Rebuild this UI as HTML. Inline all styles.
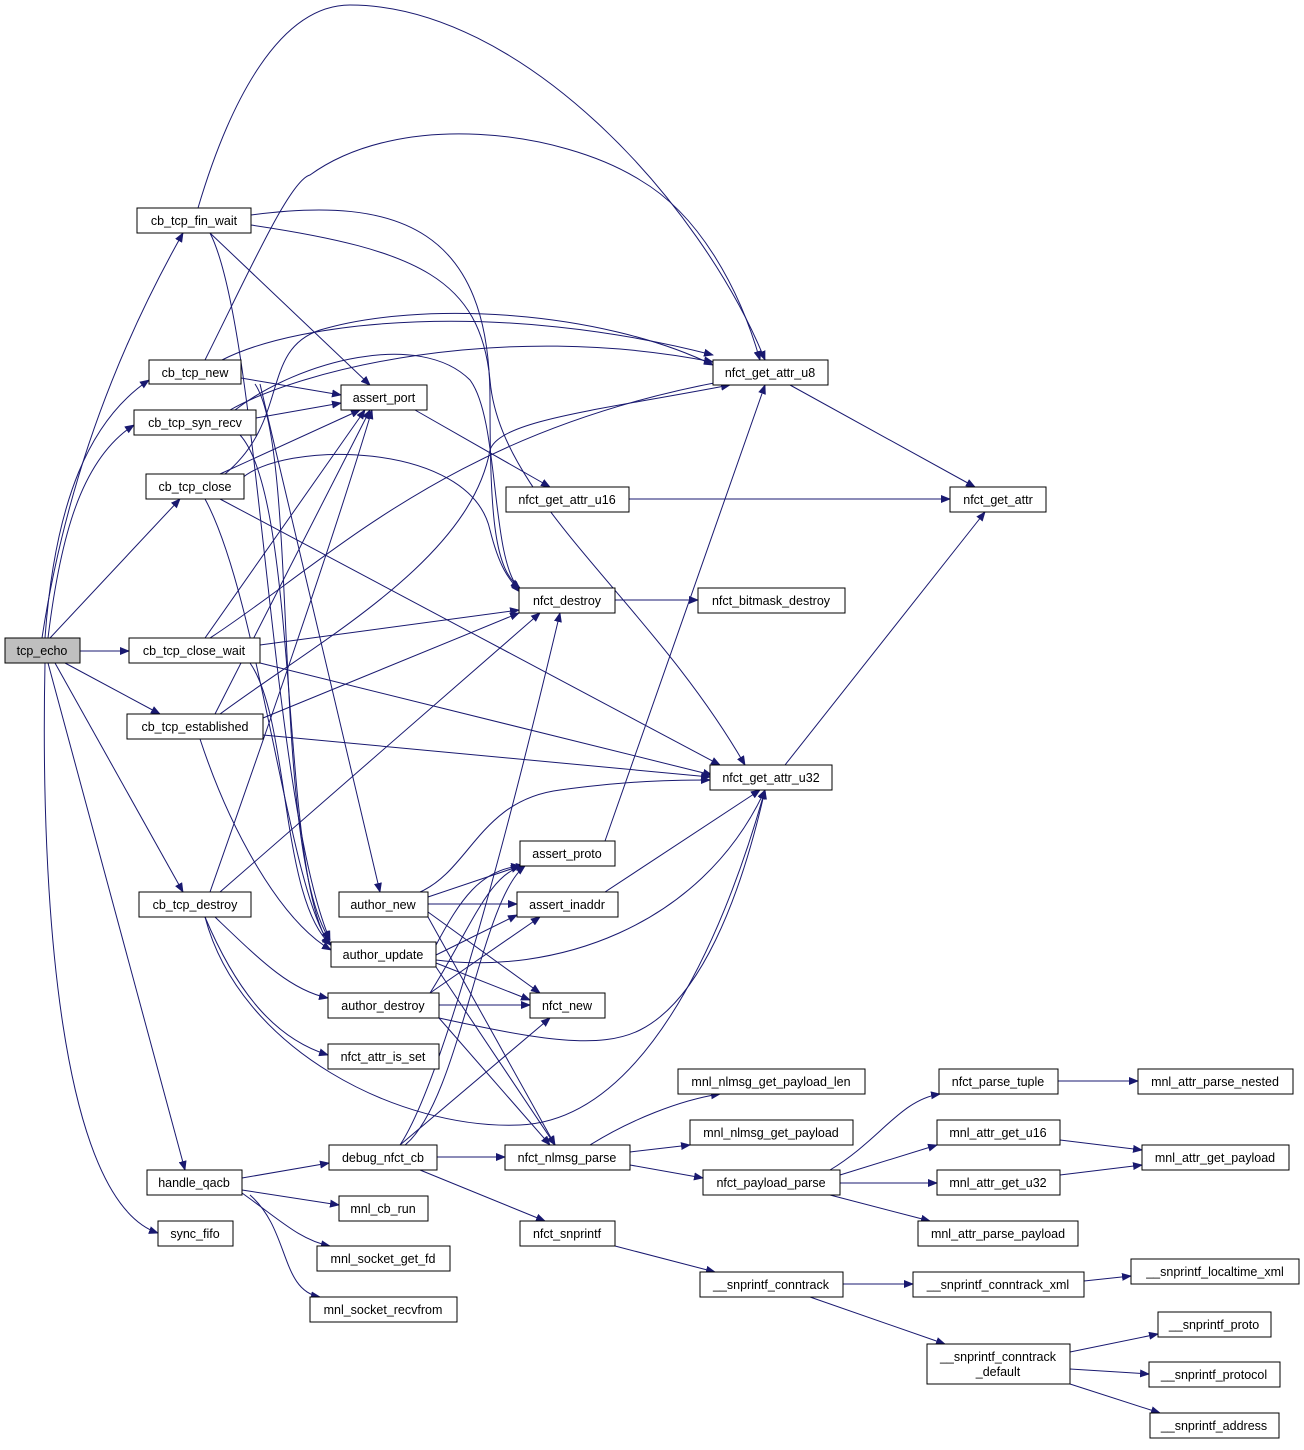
<!DOCTYPE html>
<html><head><meta charset="utf-8"><style>
html,body{margin:0;padding:0;background:#fff;}
svg text{font-family:"Liberation Sans",sans-serif;font-size:12.5px;fill:#000;text-anchor:middle;}
.n{fill:#fff;stroke:#000;stroke-width:1;}
.e{fill:none;stroke:#191970;stroke-width:1;marker-end:url(#a);}
</style></head><body>
<svg width="1304" height="1445" viewBox="0 0 1304 1445" xmlns="http://www.w3.org/2000/svg">
<defs><marker id="a" markerWidth="10" markerHeight="8" refX="9" refY="4" orient="auto" markerUnits="userSpaceOnUse"><path d="M0,0 L10,4 L0,8 z" fill="#191970"/></marker></defs>
<g>
<path class="e" d="M42,638 C60,520 100,380 183,233"/>
<path class="e" d="M45,638 C55,500 90,420 149,380"/>
<path class="e" d="M48,638 C60,540 80,460 134,425"/>
<path class="e" d="M50,638 L180,499"/>
<path class="e" d="M80,651 L129,651"/>
<path class="e" d="M65,663 L160,714"/>
<path class="e" d="M55,663 L183,892"/>
<path class="e" d="M48,663 L185,1170"/>
<path class="e" d="M45,663 C40,900 60,1200 158,1233"/>

<path class="e" d="M198,208 C230,100 280,5 350,5 C520,5 700,200 765,360"/>
<path class="e" d="M210,233 L370,385"/>
<path class="e" d="M210,233 C260,330 270,800 330,940"/>
<path class="e" d="M251,215 C400,195 490,230 490,400 C490,520 495,570 520,588"/>
<path class="e" d="M251,225 C420,250 480,280 490,380 C500,500 650,600 745,765"/>

<path class="e" d="M205,360 C250,270 290,180 310,175 C400,110 560,130 640,180 C700,215 740,290 760,360"/>
<path class="e" d="M222,360 C300,320 500,300 713,355"/>
<path class="e" d="M241,378 L341,395"/>
<path class="e" d="M260,384 L380,892"/>
<path class="e" d="M255,384 C300,450 270,850 330,940"/>

<path class="e" d="M256,418 L341,403"/>
<path class="e" d="M230,410 C300,370 500,320 713,362"/>
<path class="e" d="M235,410 C300,360 420,330 470,380 C500,420 490,560 520,590"/>
<path class="e" d="M240,435 C300,500 280,880 330,945"/>

<path class="e" d="M220,474 L360,410"/>
<path class="e" d="M240,480 C280,440 470,440 490,530 C500,570 510,580 520,592"/>
<path class="e" d="M225,474 C290,420 260,350 320,330 C420,300 600,310 713,365"/>
<path class="e" d="M220,499 L720,765"/>
<path class="e" d="M205,499 C260,600 290,900 331,945"/>

<path class="e" d="M205,638 L365,410"/>
<path class="e" d="M260,645 L519,610"/>
<path class="e" d="M260,663 L712,775"/>
<path class="e" d="M210,638 C330,560 450,430 730,380"/>
<path class="e" d="M250,663 C290,720 280,900 331,945"/>

<path class="e" d="M215,714 L370,410"/>
<path class="e" d="M220,714 C320,640 470,560 490,450 C500,420 600,410 730,385"/>
<path class="e" d="M263,718 L519,613"/>
<path class="e" d="M263,735 L710,777"/>
<path class="e" d="M200,739 C230,830 280,920 331,950"/>

<path class="e" d="M210,892 C260,750 330,550 372,410"/>
<path class="e" d="M220,892 L540,613"/>
<path class="e" d="M205,917 C240,1050 400,1130 520,1125 C640,1120 720,950 765,790"/>
<path class="e" d="M215,917 C260,960 290,990 328,998"/>
<path class="e" d="M205,917 C240,1000 280,1040 328,1055"/>

<path class="e" d="M428,897 L520,866"/>
<path class="e" d="M428,904 L517,904"/>
<path class="e" d="M428,912 L540,993"/>
<path class="e" d="M420,892 C470,870 480,800 560,790 C620,782 660,780 710,780"/>
<path class="e" d="M428,917 L555,1145"/>

<path class="e" d="M436,945 C460,900 480,870 520,866"/>
<path class="e" d="M436,955 L517,915"/>
<path class="e" d="M436,963 L530,1000"/>
<path class="e" d="M436,960 C550,975 700,930 765,790"/>
<path class="e" d="M436,967 L555,1145"/>

<path class="e" d="M430,993 C470,930 490,870 525,866"/>
<path class="e" d="M430,993 L540,917"/>
<path class="e" d="M439,1005 L530,1005"/>
<path class="e" d="M439,1018 C540,1040 600,1050 640,1030 C700,1000 740,900 765,790"/>
<path class="e" d="M439,1018 L550,1145"/>

<path class="e" d="M415,410 L550,487"/>
<path class="e" d="M605,841 L765,385"/>
<path class="e" d="M605,892 L760,790"/>
<path class="e" d="M790,385 L975,487"/>
<path class="e" d="M629,499 L950,499"/>
<path class="e" d="M615,600 L698,600"/>
<path class="e" d="M785,765 L985,512"/>

<path class="e" d="M400,1145 C430,1100 480,950 560,613"/>
<path class="e" d="M405,1145 C460,1100 480,900 525,866"/>
<path class="e" d="M400,1145 L550,1018"/>
<path class="e" d="M437,1157 L505,1157"/>
<path class="e" d="M420,1170 L545,1221"/>

<path class="e" d="M242,1178 L329,1163"/>
<path class="e" d="M242,1190 L339,1205"/>
<path class="e" d="M242,1193 C280,1220 300,1240 330,1246"/>
<path class="e" d="M250,1195 C290,1230 280,1290 320,1297"/>

<path class="e" d="M590,1145 C630,1120 680,1100 720,1094"/>
<path class="e" d="M630,1152 L690,1145"/>
<path class="e" d="M630,1165 L703,1178"/>
<path class="e" d="M830,1170 C880,1140 900,1100 940,1094"/>
<path class="e" d="M840,1175 L937,1145"/>
<path class="e" d="M840,1183 L937,1183"/>
<path class="e" d="M830,1195 L930,1221"/>
<path class="e" d="M1058,1081 L1138,1081"/>
<path class="e" d="M1060,1140 L1142,1150"/>
<path class="e" d="M1060,1175 L1142,1165"/>
<path class="e" d="M615,1246 L715,1272"/>
<path class="e" d="M843,1284 L913,1284"/>
<path class="e" d="M1084,1281 L1131,1276"/>
<path class="e" d="M810,1297 L945,1344"/>
<path class="e" d="M1070,1352 L1158,1334"/>
<path class="e" d="M1070,1369 L1149,1374"/>
<path class="e" d="M1070,1384 L1160,1413"/>
</g>
<g>
<rect x="5" y="638" width="75" height="25" style="fill:#bfbfbf;stroke:#000"/><text x="42" y="655">tcp_echo</text>
<rect class="n" x="137" y="208" width="114" height="25"/><text x="194" y="225">cb_tcp_fin_wait</text>
<rect class="n" x="149" y="360" width="92" height="24"/><text x="195" y="377">cb_tcp_new</text>
<rect class="n" x="134" y="410" width="122" height="25"/><text x="195" y="427">cb_tcp_syn_recv</text>
<rect class="n" x="146" y="474" width="98" height="25"/><text x="195" y="491">cb_tcp_close</text>
<rect class="n" x="129" y="638" width="131" height="25"/><text x="194" y="655">cb_tcp_close_wait</text>
<rect class="n" x="127" y="714" width="136" height="25"/><text x="195" y="731">cb_tcp_established</text>
<rect class="n" x="139" y="892" width="112" height="25"/><text x="195" y="909">cb_tcp_destroy</text>
<rect class="n" x="147" y="1170" width="95" height="25"/><text x="194" y="1187">handle_qacb</text>
<rect class="n" x="158" y="1221" width="75" height="25"/><text x="195" y="1238">sync_fifo</text>
<rect class="n" x="341" y="385" width="86" height="25"/><text x="384" y="402">assert_port</text>
<rect class="n" x="713" y="360" width="115" height="25"/><text x="770" y="377">nfct_get_attr_u8</text>
<rect class="n" x="506" y="487" width="123" height="25"/><text x="567" y="504">nfct_get_attr_u16</text>
<rect class="n" x="950" y="487" width="96" height="25"/><text x="998" y="504">nfct_get_attr</text>
<rect class="n" x="519" y="588" width="96" height="25"/><text x="567" y="605">nfct_destroy</text>
<rect class="n" x="698" y="588" width="147" height="25"/><text x="771" y="605">nfct_bitmask_destroy</text>
<rect class="n" x="710" y="765" width="122" height="25"/><text x="771" y="782">nfct_get_attr_u32</text>
<rect class="n" x="520" y="841" width="95" height="25"/><text x="567" y="858">assert_proto</text>
<rect class="n" x="517" y="892" width="101" height="25"/><text x="567" y="909">assert_inaddr</text>
<rect class="n" x="339" y="892" width="89" height="25"/><text x="383" y="909">author_new</text>
<rect class="n" x="331" y="942" width="105" height="25"/><text x="383" y="959">author_update</text>
<rect class="n" x="328" y="993" width="111" height="25"/><text x="383" y="1010">author_destroy</text>
<rect class="n" x="530" y="993" width="75" height="25"/><text x="567" y="1010">nfct_new</text>
<rect class="n" x="328" y="1044" width="111" height="25"/><text x="383" y="1061">nfct_attr_is_set</text>
<rect class="n" x="329" y="1145" width="108" height="25"/><text x="383" y="1162">debug_nfct_cb</text>
<rect class="n" x="505" y="1145" width="125" height="25"/><text x="567" y="1162">nfct_nlmsg_parse</text>
<rect class="n" x="339" y="1196" width="89" height="25"/><text x="383" y="1213">mnl_cb_run</text>
<rect class="n" x="317" y="1246" width="133" height="25"/><text x="383" y="1263">mnl_socket_get_fd</text>
<rect class="n" x="310" y="1297" width="147" height="25"/><text x="383" y="1314">mnl_socket_recvfrom</text>
<rect class="n" x="520" y="1221" width="95" height="25"/><text x="567" y="1238">nfct_snprintf</text>
<rect class="n" x="678" y="1069" width="187" height="25"/><text x="771" y="1086">mnl_nlmsg_get_payload_len</text>
<rect class="n" x="690" y="1120" width="163" height="25"/><text x="771" y="1137">mnl_nlmsg_get_payload</text>
<rect class="n" x="703" y="1170" width="137" height="25"/><text x="771" y="1187">nfct_payload_parse</text>
<rect class="n" x="939" y="1069" width="119" height="25"/><text x="998" y="1086">nfct_parse_tuple</text>
<rect class="n" x="937" y="1120" width="123" height="25"/><text x="998" y="1137">mnl_attr_get_u16</text>
<rect class="n" x="937" y="1170" width="123" height="25"/><text x="998" y="1187">mnl_attr_get_u32</text>
<rect class="n" x="918" y="1221" width="160" height="25"/><text x="998" y="1238">mnl_attr_parse_payload</text>
<rect class="n" x="1138" y="1069" width="155" height="25"/><text x="1215" y="1086">mnl_attr_parse_nested</text>
<rect class="n" x="1142" y="1145" width="147" height="25"/><text x="1215" y="1162">mnl_attr_get_payload</text>
<rect class="n" x="700" y="1272" width="143" height="25"/><text x="771" y="1289">__snprintf_conntrack</text>
<rect class="n" x="913" y="1272" width="171" height="25"/><text x="998" y="1289">__snprintf_conntrack_xml</text>
<rect class="n" x="1131" y="1259" width="168" height="25"/><text x="1215" y="1276">__snprintf_localtime_xml</text>
<rect class="n" x="927" y="1344" width="143" height="40"/><text x="998" y="1361">__snprintf_conntrack</text><text x="998" y="1376">_default</text>
<rect class="n" x="1158" y="1312" width="113" height="25"/><text x="1214" y="1329">__snprintf_proto</text>
<rect class="n" x="1149" y="1362" width="131" height="25"/><text x="1214" y="1379">__snprintf_protocol</text>
<rect class="n" x="1150" y="1413" width="129" height="25"/><text x="1214" y="1430">__snprintf_address</text>
</g>
</svg>
</body></html>
